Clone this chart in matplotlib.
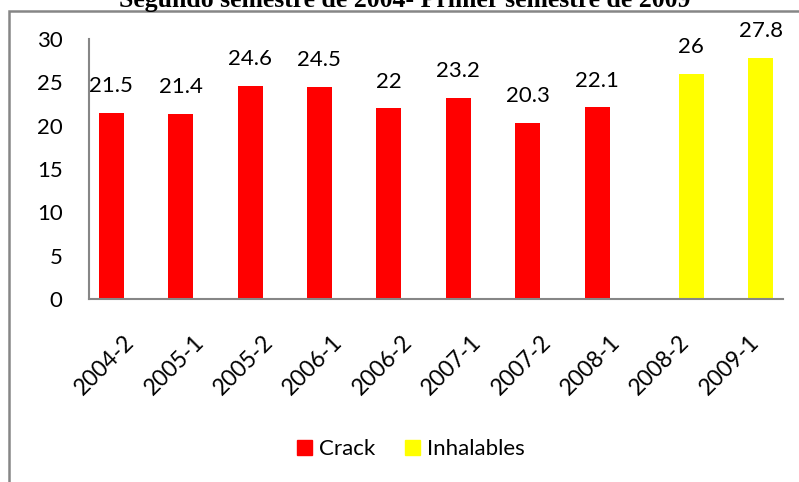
import numpy as np
import matplotlib
matplotlib.use("Agg")
import matplotlib.pyplot as plt
from matplotlib.patches import Rectangle, Patch

# datos del grafico
semestres = ['2004-2', '2005-1', '2005-2', '2006-1', '2006-2',
             '2007-1', '2007-2', '2008-1', '2008-2', '2009-1']
crack = [21.5, 21.4, 24.6, 24.5, 22, 23.2, 20.3, 22.1]
inhalables = [26, 27.8]
titulo = 'Segundo semestre de 2004- Primer semestre de 2009'

plt.rcParams['font.family'] = ['Lato', 'DejaVu Sans']

W, H = 799, 482
fig = plt.figure(figsize=(W / 100, H / 100), dpi=100)
ax = fig.add_axes([89 / W, (H - 299) / H, (783 - 89) / W, (299 - 39) / H])

x = np.arange(len(semestres))
ancho = 0.36
x_crack = x[:len(crack)] - ancho / 2
x_inh = x[len(semestres) - len(inhalables):] + ancho / 2

b1 = ax.bar(x_crack, crack, width=ancho, color='#ff0000')
b2 = ax.bar(x_inh, inhalables, width=ancho, color='#ffff00')
for b in (b1, b2):
    ax.bar_label(b, fmt='%g', padding=12, fontsize=16)

ax.set_xlim(-0.5, len(semestres) - 0.5)
ax.set_ylim(0, 30)
ax.set_yticks(np.arange(0, 31, 5))
ax.tick_params(axis='y', length=0, pad=19, labelsize=16)
ax.set_xticks(x)
ax.set_xticklabels(semestres, rotation=45, ha='right', rotation_mode='anchor', fontsize=16.5)
ax.tick_params(axis='x', length=0, pad=23)

for lado in ('top', 'right'):
    ax.spines[lado].set_visible(False)
for lado in ('left', 'bottom'):
    ax.spines[lado].set_color('#868686')
    ax.spines[lado].set_linewidth(1.5)

# marco del grafico (recortado en la imagen original)
marco = Rectangle((9 / W, -0.2), 1.2, (H - 11) / H + 0.2, transform=fig.transFigure,
                  fill=False, edgecolor='#868686', linewidth=1.8)
fig.add_artist(marco)

fig.text(405 / W, (H - 7) / H, titulo, ha='center', va='baseline',
         family='Liberation Serif', weight='bold', fontsize=18.5)

handles = [Patch(color='#ff0000', label='Crack'), Patch(color='#ffff00', label='Inhalables')]
fig.legend(handles=handles, loc='center', bbox_to_anchor=(411 / W, (H - 449) / H),
           ncol=2, frameon=False, fontsize=16, handlelength=0.68, handleheight=0.68,
           handletextpad=0.3, columnspacing=1.35)

fig.savefig('out.png', dpi=100)
